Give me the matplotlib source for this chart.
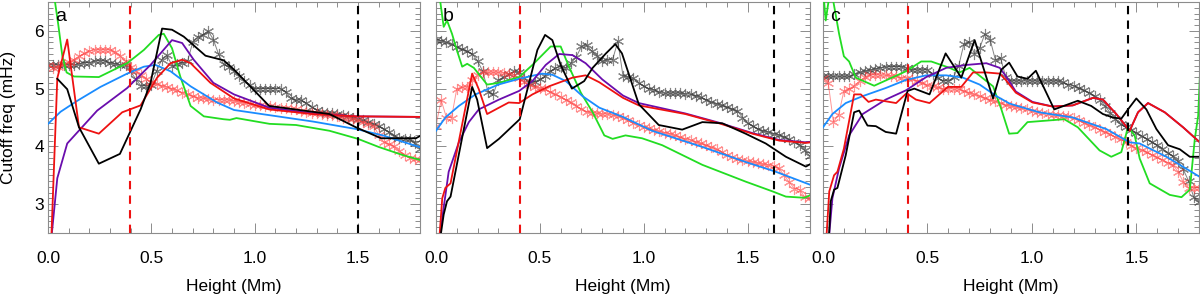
import numpy as np
import matplotlib
matplotlib.use("Agg")
import matplotlib.pyplot as plt
from matplotlib.ticker import MultipleLocator

plt.rcParams['font.family'] = ['Liberation Sans', 'DejaVu Sans']
plt.rcParams['font.size'] = 12.5

# ---- panel a ----
A_GREEN_H = [0.03, 0.05, 0.07, 0.09, 0.126, 0.246, 0.383, 0.464, 0.536, 0.56, 0.60, 0.64, 0.69, 0.754, 0.85, 0.88, 0.912, 1.072, 1.2, 1.362, 1.5, 1.6, 1.716, 1.805]
A_GREEN_F = [6.6, 6.1, 5.55, 5.28, 5.21, 5.20, 5.44, 5.67, 5.93, 5.95, 5.70, 5.21, 4.70, 4.52, 4.47, 4.46, 4.49, 4.39, 4.37, 4.27, 4.13, 3.99, 3.85, 3.76]
A_BLUE_H = [0, 0.061, 0.142, 0.254, 0.383, 0.464, 0.52, 0.593, 0.69, 0.818, 0.9, 1.072, 1.282, 1.491, 1.62, 1.805]
A_BLUE_F = [4.39, 4.60, 4.79, 5.03, 5.26, 5.38, 5.41, 5.30, 5.04, 4.76, 4.63, 4.54, 4.43, 4.30, 4.19, 3.98]
A_RED_H = [0.016, 0.045, 0.093, 0.15, 0.246, 0.359, 0.448, 0.528, 0.593, 0.649, 0.69, 0.786, 0.9, 1.07, 1.28, 1.49, 1.805]
A_RED_F = [2.4, 5.18, 5.85, 4.33, 4.22, 4.59, 4.71, 5.19, 5.44, 5.50, 5.44, 5.10, 4.83, 4.64, 4.56, 4.52, 4.51]
A_PURPLE_H = [0.016, 0.045, 0.093, 0.238, 0.383, 0.496, 0.60, 0.649, 0.705, 0.80, 0.9, 1.07, 1.28, 1.49, 1.805]
A_PURPLE_F = [2.4, 3.45, 4.05, 4.62, 5.01, 5.41, 5.84, 5.79, 5.50, 5.10, 4.90, 4.67, 4.57, 4.52, 4.51]
A_BLACK_H = [0.045, 0.093, 0.15, 0.246, 0.348, 0.448, 0.496, 0.552, 0.60, 0.657, 0.762, 0.85, 0.9, 1.07, 1.362, 1.49, 1.612, 1.78, 1.805]
A_BLACK_F = [5.17, 4.99, 4.33, 3.70, 3.87, 4.64, 5.10, 6.04, 6.02, 5.90, 5.57, 5.49, 5.33, 4.70, 4.56, 4.33, 4.14, 4.14, 4.19]
A_STAR_GRAY = [5.41, 5.41, 5.41, 5.41, 5.41, 5.41, 5.43, 5.45, 5.45, 5.48,
               5.48, 5.48, 5.45, 5.43, 5.41, 5.41, 5.30, 5.16, 5.05, 5.05,
               5.07, 5.30, 5.50, 5.58, 5.40, 5.42, 5.45, 5.47, 5.80, 5.90,
               5.93, 6.00, 5.85, 5.60, 5.42, 5.38, 5.30, 5.22, 5.14, 5.06,
               5.00, 5.00, 5.00, 5.00, 5.00, 5.00, 4.95, 4.83, 4.80, 4.80,
               4.75, 4.68, 4.63, 4.60, 4.58, 4.57, 4.56, 4.55, 4.53, 4.50,
               4.47, 4.45, 4.42, 4.39, 4.35, 4.30, 4.25, 4.18, 4.14, 4.13,
               4.12, 4.05, 3.96]
A_STAR_RED = [5.41, 5.36, 5.38, 5.42, 5.46, 5.50, 5.56, 5.61, 5.65, 5.67,
              5.67, 5.67, 5.67, 5.64, 5.56, 5.47, 5.38, 5.30, 5.24, 5.17,
              5.11, 5.08, 5.05, 5.03, 5.00, 4.97, 4.93, 4.90, 4.87, 4.84,
              4.83, 4.82, 4.81, 4.81, 4.80, 4.80, 4.79, 4.77, 4.75, 4.73,
              4.72, 4.71, 4.70, 4.70, 4.68, 4.67, 4.66, 4.65, 4.64, 4.62,
              4.60, 4.58, 4.57, 4.56, 4.55, 4.54, 4.52, 4.50, 4.49, 4.47,
              4.45, 4.42, 4.39, 4.36, 4.20, 4.07, 4.04, 4.00, 3.92, 3.85,
              3.80, 3.78, 3.76]

# ---- panel b ----
B_GREEN_H = [0.02, 0.037, 0.053, 0.077, 0.10, 0.126, 0.15, 0.182, 0.246, 0.303, 0.40, 0.464, 0.552, 0.60, 0.64, 0.697, 0.754, 0.81, 0.85, 0.912, 0.992, 1.089, 1.282, 1.49, 1.62, 1.684, 1.773, 1.805]
B_GREEN_F = [6.52, 6.07, 6.18, 5.95, 5.67, 5.38, 5.43, 5.36, 5.07, 5.10, 5.20, 5.41, 5.73, 5.73, 5.38, 4.93, 4.59, 4.19, 4.13, 4.19, 4.14, 4.02, 3.68, 3.39, 3.22, 3.13, 3.11, 3.16]
B_BLUE_H = [0, 0.045, 0.11, 0.19, 0.30, 0.40, 0.51, 0.56, 0.625, 0.705, 0.786, 0.9, 1.04, 1.282, 1.49, 1.636, 1.805]
B_BLUE_F = [4.27, 4.50, 4.70, 4.90, 5.07, 5.17, 5.26, 5.24, 5.13, 4.87, 4.67, 4.51, 4.27, 3.99, 3.73, 3.56, 3.33]
B_RED_H = [0.016, 0.03, 0.045, 0.07, 0.174, 0.206, 0.246, 0.303, 0.35, 0.40, 0.464, 0.544, 0.657, 0.72, 0.786, 0.9, 0.976, 1.2, 1.362, 1.523, 1.652, 1.78, 1.805]
B_RED_F = [2.4, 3.1, 3.28, 3.36, 5.26, 4.99, 4.56, 4.67, 4.76, 4.75, 4.90, 5.04, 5.19, 5.23, 5.11, 4.84, 4.71, 4.56, 4.40, 4.22, 4.10, 4.06, 4.07]
B_PURPLE_H = [0.016, 0.061, 0.11, 0.158, 0.206, 0.303, 0.40, 0.464, 0.528, 0.593, 0.657, 0.72, 0.80, 0.9, 0.976, 1.2, 1.362, 1.523, 1.652, 1.78, 1.805]
B_PURPLE_F = [2.4, 3.56, 4.07, 4.42, 4.64, 4.81, 4.96, 5.13, 5.41, 5.60, 5.58, 5.44, 5.16, 4.88, 4.75, 4.57, 4.41, 4.23, 4.11, 4.07, 4.08]
B_BLACK_H = [0.02, 0.037, 0.053, 0.07, 0.174, 0.198, 0.246, 0.303, 0.403, 0.448, 0.488, 0.525, 0.56, 0.60, 0.654, 0.713, 0.754, 0.818, 0.863, 0.895, 0.976, 1.072, 1.185, 1.282, 1.378, 1.49, 1.587, 1.684, 1.78, 1.805]
B_BLACK_F = [2.4, 2.82, 3.05, 3.13, 5.03, 4.81, 3.97, 4.13, 4.47, 5.10, 5.67, 5.93, 5.84, 5.41, 5.00, 5.13, 5.36, 5.61, 5.77, 5.61, 4.73, 4.37, 4.29, 4.42, 4.40, 4.22, 4.05, 3.82, 3.65, 3.70]
B_STAR_GRAY = [5.85, 5.83, 5.80, 5.77, 5.72, 5.68, 5.65, 5.60, 5.48, 5.30,
               4.95, 4.90, 5.15, 5.20, 5.25, 5.30, 5.28, 5.18, 5.10, 5.12,
               5.16, 5.22, 5.30, 5.36, 5.38, 5.36, 5.44, 5.55, 5.73, 5.75,
               5.65, 5.57, 5.47, 5.50, 5.50, 5.82, 5.22, 5.20, 5.18, 5.10,
               5.04, 5.00, 4.98, 4.94, 4.92, 4.92, 4.92, 4.92, 4.91, 4.90,
               4.88, 4.85, 4.81, 4.77, 4.74, 4.71, 4.68, 4.65, 4.62, 4.50,
               4.40, 4.35, 4.30, 4.27, 4.25, 4.22, 4.20, 4.17, 4.12, 4.08,
               4.03, 3.93, 3.83]
B_STAR_RED = [4.36, 4.80, 4.50, 4.50, 5.00, 5.02, 5.03, 5.15, 5.24, 5.28,
              5.28, 5.28, 5.28, 5.27, 5.26, 5.24, 5.18, 5.11, 5.06, 5.03,
              5.01, 4.99, 4.94, 4.90, 4.86, 4.81, 4.76, 4.70, 4.65, 4.60,
              4.58, 4.57, 4.56, 4.56, 4.54, 4.53, 4.50, 4.45, 4.40, 4.37,
              4.34, 4.31, 4.28, 4.26, 4.24, 4.22, 4.19, 4.16, 4.13, 4.11,
              4.08, 4.05, 4.02, 3.99, 3.95, 3.90, 3.85, 3.81, 3.78, 3.76,
              3.74, 3.73, 3.71, 3.69, 3.68, 3.66, 3.62, 3.50, 3.38, 3.27,
              3.25, 3.12, 3.11]

# ---- panel c ----
C_GREEN_H = [0.005, 0.013, 0.03, 0.045, 0.077, 0.10, 0.125, 0.157, 0.245, 0.397, 0.47, 0.518, 0.606, 0.654, 0.702, 0.814, 0.854, 0.891, 0.931, 0.979, 1.155, 1.22, 1.324, 1.38, 1.428, 1.46, 1.492, 1.516, 1.564, 1.66, 1.716, 1.756, 1.78, 1.796, 1.81]
C_GREEN_F = [6.52, 6.18, 6.6, 6.6, 5.95, 5.56, 5.47, 5.19, 5.05, 5.30, 5.47, 5.47, 5.36, 5.28, 5.36, 5.04, 4.64, 4.22, 4.23, 4.42, 4.47, 4.33, 3.93, 3.82, 3.90, 4.33, 4.19, 3.79, 3.36, 3.16, 3.12, 3.25, 4.13, 4.53, 5.7]
C_BLUE_H = [0, 0.045, 0.109, 0.19, 0.30, 0.397, 0.494, 0.59, 0.67, 0.75, 0.83, 0.894, 1.035, 1.196, 1.356, 1.468, 1.516, 1.644, 1.8]
C_BLUE_F = [4.33, 4.56, 4.75, 4.87, 5.01, 5.15, 5.23, 5.23, 5.19, 5.07, 4.87, 4.74, 4.59, 4.50, 4.30, 4.07, 4.05, 3.82, 3.48]
C_RED_H = [0.016, 0.03, 0.053, 0.069, 0.10, 0.149, 0.181, 0.218, 0.253, 0.35, 0.40, 0.445, 0.51, 0.598, 0.662, 0.718, 0.782, 0.846, 0.875, 0.923, 1.003, 1.099, 1.196, 1.292, 1.34, 1.404, 1.468, 1.508, 1.556, 1.636, 1.724, 1.804]
C_RED_F = [2.4, 3.22, 3.50, 3.56, 3.96, 4.90, 4.90, 4.77, 4.81, 4.75, 4.92, 4.81, 4.75, 5.03, 5.03, 5.28, 5.28, 5.26, 5.15, 4.93, 4.76, 4.69, 4.71, 4.84, 4.81, 4.56, 4.27, 4.59, 4.75, 4.59, 4.33, 4.07]
C_PURPLE_H = [0.028, 0.045, 0.077, 0.125, 0.19, 0.30, 0.397, 0.494, 0.59, 0.686, 0.782, 0.846, 0.875, 0.923, 1.003, 1.099, 1.196, 1.292, 1.34, 1.404, 1.468, 1.508, 1.556, 1.636, 1.724, 1.804]
C_PURPLE_F = [2.4, 3.1, 3.62, 4.19, 4.56, 4.81, 4.97, 5.20, 5.36, 5.41, 5.44, 5.36, 5.22, 4.95, 4.77, 4.69, 4.71, 4.84, 4.81, 4.56, 4.27, 4.59, 4.75, 4.59, 4.33, 4.07]
C_BLACK_H = [0.028, 0.037, 0.053, 0.069, 0.109, 0.149, 0.173, 0.213, 0.253, 0.30, 0.35, 0.405, 0.437, 0.51, 0.587, 0.662, 0.726, 0.814, 0.854, 0.891, 0.931, 0.979, 1.019, 1.107, 1.22, 1.284, 1.34, 1.388, 1.428, 1.46, 1.5, 1.548, 1.596, 1.652, 1.708, 1.756, 1.804]
C_BLACK_F = [2.4, 3.05, 3.25, 3.28, 3.85, 4.59, 4.62, 4.36, 4.35, 4.25, 4.22, 4.96, 5.00, 4.90, 5.61, 5.19, 5.84, 4.83, 5.33, 5.45, 5.21, 5.17, 5.31, 4.64, 4.79, 4.70, 4.56, 4.50, 4.48, 4.64, 4.83, 4.64, 4.30, 4.02, 3.95, 3.82, 3.82]
C_STAR_GRAY = [5.21, 5.21, 5.21, 5.21, 5.21, 5.21, 5.25, 5.28, 5.30, 5.32,
               5.34, 5.36, 5.37, 5.38, 5.38, 5.38, 5.35, 5.33, 5.32, 5.32,
               5.33, 5.25, 5.18, 5.14, 5.13, 5.20, 5.40, 5.78, 5.81, 5.60,
               5.70, 5.95, 5.85, 5.50, 5.53, 5.20, 5.13, 5.13, 5.13, 5.13,
               5.13, 5.13, 5.13, 5.13, 5.13, 5.13, 5.11, 5.07, 5.05, 5.01,
               4.97, 4.93, 4.87, 4.81, 4.70, 4.58, 4.47, 4.38, 4.33, 4.29,
               4.24, 4.18, 4.13, 4.07, 4.02, 3.96, 3.89, 3.83, 3.74, 3.60,
               3.40, 3.12, 3.03]
C_STAR_RED = [5.19, 5.10, 4.42, 4.55, 4.96, 5.00, 5.05, 5.13, 5.20, 5.24,
              5.24, 5.23, 5.23, 5.22, 5.21, 5.19, 5.18, 5.16, 5.14, 5.10,
              5.06, 5.04, 5.02, 5.00, 5.00, 4.99, 4.99, 4.96, 4.93, 4.90,
              4.87, 4.84, 4.80, 4.78, 4.75, 4.71, 4.70, 4.68, 4.66, 4.64,
              4.62, 4.60, 4.58, 4.56, 4.55, 4.54, 4.53, 4.52, 4.49, 4.45,
              4.41, 4.37, 4.33, 4.29, 4.25, 4.21, 4.16, 4.12, 4.07, 4.01,
              3.97, 3.94, 3.90, 3.85, 3.81, 3.77, 3.72, 3.68, 3.56, 3.38,
              3.28, 3.28, 3.28]

LETTERS = ['a', 'b', 'c']
RED_DASH = [0.395, 0.405, 0.405]
BLACK_DASH = [1.5, 1.627, 1.462]

GREEN = '#22dd22'
BLUE = '#1a8cff'
PURPLE = '#6a0dad'
RED = '#ee1111'
AXCOL = '#8c8c8c'


def draw_panel(ax, lines, star_gray, star_red, letter, xr, xb, ylab):
    hs = np.linspace(0, 1.8, len(star_gray))
    ax.plot(hs, star_gray, color='#333333', lw=0.7, alpha=0.6,
            marker=(6, 2, 0), ms=8, mew=0.8, zorder=2)
    hs = np.linspace(0, 1.8, len(star_red))
    ax.plot(hs, star_red, color='#ff4040', lw=0.7, alpha=0.55,
            marker=(6, 2, 0), ms=8, mew=0.8, zorder=2)
    for h, f, c in lines:
        ax.plot(h, f, color=c, lw=1.3, zorder=3)
    ax.axvline(xr, color=RED, ls=(0, (4, 3)), lw=1.5, zorder=4)
    ax.axvline(xb, color='black', ls=(0, (4, 3)), lw=1.5, zorder=4)
    ax.set_xlim(0, 1.8)
    ax.set_ylim(2.5, 6.5)
    ax.xaxis.set_major_locator(MultipleLocator(0.5))
    ax.xaxis.set_minor_locator(MultipleLocator(0.1))
    ax.yaxis.set_major_locator(MultipleLocator(1))
    ax.yaxis.set_minor_locator(MultipleLocator(0.1))
    ax.tick_params(which='both', direction='in', top=True, right=True, color=AXCOL, width=0.7)
    ax.tick_params(which='major', length=7)
    ax.tick_params(which='minor', length=3.5)
    ax.tick_params(axis='x', pad=13)
    ax.tick_params(axis='y', pad=3)
    ax.xaxis.set_major_formatter(matplotlib.ticker.FormatStrFormatter('%.1f'))
    for s in ax.spines.values():
        s.set_color(AXCOL)
        s.set_linewidth(0.8)
    ax.set_xlabel('Height (Mm)', labelpad=9)
    if ylab:
        ax.set_ylabel('Cutoff freq (mHz)', labelpad=13)
    else:
        ax.set_yticklabels([])
    ax.text(0.018, 0.975, letter, transform=ax.transAxes, ha='left', va='top', fontsize=14, zorder=6)


def main():
    fig = plt.figure(figsize=(12, 2.94), dpi=100)
    bot = 61 / 294
    hgt = 231 / 294
    ax_a = fig.add_axes([48 / 1200, bot, 372 / 1200, hgt])
    ax_b = fig.add_axes([436 / 1200, bot, 374 / 1200, hgt])
    ax_c = fig.add_axes([823 / 1200, bot, 376 / 1200, hgt])

    draw_panel(ax_a, [(A_GREEN_H, A_GREEN_F, GREEN), (A_BLUE_H, A_BLUE_F, BLUE),
                      (A_PURPLE_H, A_PURPLE_F, PURPLE), (A_RED_H, A_RED_F, RED),
                      (A_BLACK_H, A_BLACK_F, 'black')],
               A_STAR_GRAY, A_STAR_RED, LETTERS[0], RED_DASH[0], BLACK_DASH[0], True)
    draw_panel(ax_b, [(B_GREEN_H, B_GREEN_F, GREEN), (B_BLUE_H, B_BLUE_F, BLUE),
                      (B_PURPLE_H, B_PURPLE_F, PURPLE), (B_RED_H, B_RED_F, RED),
                      (B_BLACK_H, B_BLACK_F, 'black')],
               B_STAR_GRAY, B_STAR_RED, LETTERS[1], RED_DASH[1], BLACK_DASH[1], False)
    draw_panel(ax_c, [(C_GREEN_H, C_GREEN_F, GREEN), (C_BLUE_H, C_BLUE_F, BLUE),
                      (C_PURPLE_H, C_PURPLE_F, PURPLE), (C_RED_H, C_RED_F, RED),
                      (C_BLACK_H, C_BLACK_F, 'black')],
               C_STAR_GRAY, C_STAR_RED, LETTERS[2], RED_DASH[2], BLACK_DASH[2], False)

    fig.savefig('out.png', dpi=100)


if __name__ == "__main__":
    main()
